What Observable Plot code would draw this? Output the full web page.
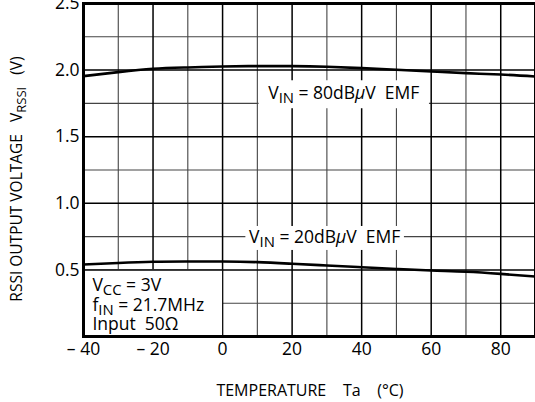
<!DOCTYPE html>
<html>
<head>
<meta charset="utf-8">
<script src="https://cdn.jsdelivr.net/npm/d3@7"></script>
<script src="https://cdn.jsdelivr.net/npm/@observablehq/plot@0.6"></script>
<style>
  html, body { margin: 0; padding: 0; background: #fff; }
  #chart svg { display: block; }
  text { font-family: "Open Sans", "Noto Sans", sans-serif; }
</style>
</head>
<body>
<div id="chart"></div>
<script>
// ---- data ----
const temps = [-40, -30, -20, -10, 0, 10, 20, 30, 40, 50, 60, 70, 80, 90];
const vrssi80 = [1.955, 1.985, 2.01, 2.02, 2.027, 2.03, 2.03, 2.025, 2.015, 2.003, 1.99, 1.977, 1.967, 1.952];
const vrssi20 = [0.54, 0.552, 0.561, 0.563, 0.563, 0.558, 0.546, 0.533, 0.52, 0.507, 0.495, 0.486, 0.47, 0.45];

const xTicks = [-40, -20, 0, 20, 40, 60, 80];
const yTicks = [0.5, 1.0, 1.5, 2.0, 2.5];
const xGridMajor = [-40, -20, 0, 20, 40, 60, 80];
const xGridMinor = [-30, -10, 10, 30, 50, 70];
const yGridMajor = [0.5, 1.0, 1.5, 2.0, 2.5];
const yGridMinor = [0.25, 0.75, 1.25, 1.75, 2.25];

// annotation boxes (data units) and label anchors
const boxX1 = [10.5, 6.7, -40];
const boxX2 = [59.5, 52.3, 0];
const boxY1 = [1.71, 0.646, 0];
const boxY2 = [1.92, 0.826, 0.5];
const labelX = [35, 29.5];
const labelY = [1.825, 0.743];
const labelDb = ["80", "20"];

const series = [
  ...temps.map((t, i) => ({t, v: vrssi80[i], s: "80"})),
  ...temps.map((t, i) => ({t, v: vrssi20[i], s: "20"}))
];
const boxes = boxX1.map((x1, i) => ({x1, x2: boxX2[i], y1: boxY1[i], y2: boxY2[i]}));

const FONT = 17.5;

const plot = Plot.plot({
  width: 535,
  height: 402,
  marginLeft: 83,
  marginRight: 0,
  marginTop: 3,
  marginBottom: 66,
  style: {fontFamily: '"Open Sans", "Noto Sans", sans-serif', background: "#fff", color: "#000"},
  x: {domain: [-40, 90], label: null},
  y: {domain: [0, 2.5], label: null},
  marks: [
    Plot.ruleX(xGridMinor, {stroke: "#444", strokeWidth: 1.1}),
    Plot.ruleY(yGridMinor, {stroke: "#444", strokeWidth: 1.1}),
    Plot.ruleX(xGridMajor, {stroke: "#000", strokeWidth: 1.5}),
    Plot.ruleY(yGridMajor, {stroke: "#000", strokeWidth: 1.5}),
    Plot.rect(boxes, {x1: "x1", x2: "x2", y1: "y1", y2: "y2", fill: "#fff"}),
    Plot.ruleY([0.5], {x1: -40, x2: 0, stroke: "#000", strokeWidth: 1.5}),
    Plot.line(series, {x: "t", y: "v", z: "s", curve: "natural", stroke: "#000", strokeWidth: 2.6}),
    Plot.frame({stroke: "#000", strokeWidth: 3}),
    Plot.axisX(xTicks, {tickSize: 0, tickPadding: 6, fontSize: FONT,
      tickFormat: d => d < 0 ? "\u2013 " + Math.abs(d) : String(d)}),
    Plot.axisY(yTicks, {tickSize: 0, tickPadding: 4, fontSize: FONT, tickFormat: d3.format(".1f")})
  ]
});

document.getElementById("chart").appendChild(plot);

const sx = plot.scale("x"), sy = plot.scale("y");
const svg = d3.select(plot);
const ff = '"Open Sans", "Noto Sans", sans-serif';

// curve labels
labelDb.forEach((db, i) => {
  const t = svg.append("text")
    .attr("x", sx.apply(labelX[i]))
    .attr("y", sy.apply(labelY[i]))
    .attr("dy", "0.35em")
    .attr("text-anchor", "middle")
    .attr("font-size", FONT)
    .attr("font-family", ff)
    .style("white-space", "pre");
  t.append("tspan").text("V");
  t.append("tspan").attr("dy", 4).attr("font-size", FONT * 0.85).text("IN");
  t.append("tspan").attr("dy", -4).text(" = " + db + "dB");
  t.append("tspan").attr("font-style", "italic").text("\u03bc");
  t.append("tspan").text("V  EMF");
});

// condition box text
const cx = sx.apply(-37.3);
const lines = [
  [["V", 0], ["CC", 1], [" = 3V", 0]],
  [["f", 0], ["IN", 1], [" = 21.7MHz", 0]],
  [["Input  50\u03a9", 0]]
];
const baseY = [291, 310.5, 329.5];
lines.forEach((parts, li) => {
  const t = svg.append("text")
    .attr("x", cx).attr("y", baseY[li])
    .attr("text-anchor", "start")
    .attr("font-size", FONT).attr("font-family", ff)
    .style("white-space", "pre");
  let sub = 0;
  parts.forEach(([s, isSub]) => {
    const ts = t.append("tspan").text(s);
    if (isSub && !sub) { ts.attr("dy", 4).attr("font-size", FONT * 0.85); sub = 1; }
    else if (!isSub && sub) { ts.attr("dy", -4); sub = 0; }
  });
});

// axis titles
svg.append("text")
  .attr("x", 310).attr("y", 396)
  .attr("text-anchor", "middle")
  .attr("font-size", 16).attr("font-family", ff)
  .style("white-space", "pre")
  .text("TEMPERATURE    Ta    (\u00b0C)");

const yt = svg.append("text")
  .attr("transform", "translate(22,179) rotate(-90)")
  .attr("text-anchor", "middle")
  .attr("font-size", 15.5).attr("font-family", ff)
  .style("white-space", "pre");
yt.append("tspan").text("RSSI OUTPUT VOLTAGE   V");
yt.append("tspan").attr("dy", 4).attr("font-size", 13).text("RSSI");
yt.append("tspan").attr("dy", -4).text("   (V)");
</script>
</body>
</html>
